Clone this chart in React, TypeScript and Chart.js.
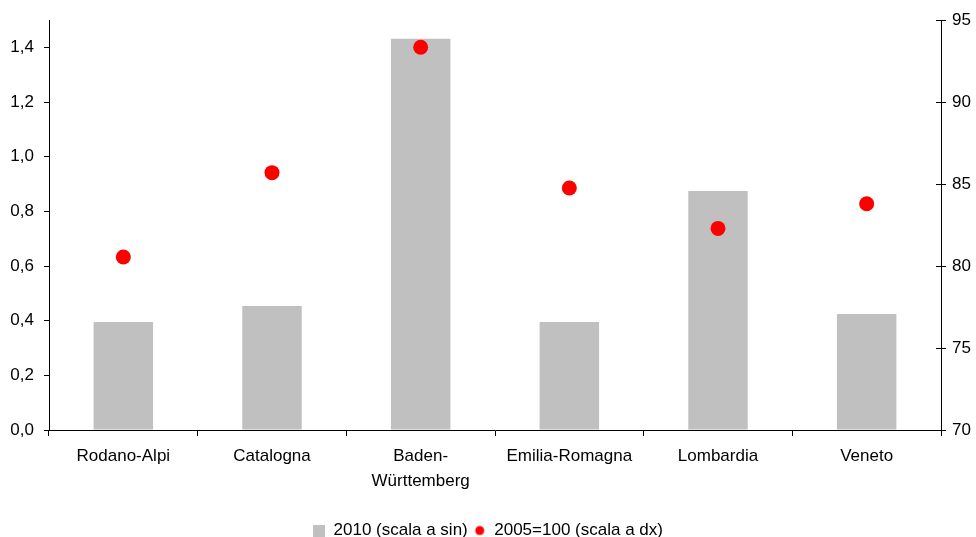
import React, { useEffect, useRef } from 'react';
import { Chart, registerables } from 'chart.js';

Chart.register(...registerables);

const categories: (string | string[])[] = [
  'Rodano-Alpi',
  'Catalogna',
  ['Baden-', 'Württemberg'],
  'Emilia-Romagna',
  'Lombardia',
  'Veneto',
];
const values2010 = [0.395, 0.454, 1.432, 0.395, 0.875, 0.425];
const index2005 = [80.55, 85.7, 93.35, 84.76, 82.3, 83.8];
const leftTicks = [0, 0.2, 0.4, 0.6, 0.8, 1.0, 1.2, 1.4];
const rightTicks = [70, 75, 80, 85, 90, 95];
const seriesNames = ['2010 (scala a sin)', '2005=100 (scala a dx)'];

const FONT = { family: '"Liberation Sans", Arial, sans-serif', size: 17 };

function makeSwatch(kind: 'rect' | 'circle', color: string): HTMLCanvasElement {
  const c = document.createElement('canvas');
  c.width = 12;
  c.height = 12;
  const ctx = c.getContext('2d')!;
  ctx.fillStyle = color;
  if (kind === 'rect') {
    ctx.fillRect(0, 0, 12, 12);
  } else {
    ctx.beginPath();
    ctx.arc(6, 6, 4.5, 0, Math.PI * 2);
    ctx.fill();
  }
  return c;
}

const innerTicks = {
  id: 'innerTicks',
  afterDraw(chart: any) {
    const y1 = chart.scales.y1;
    const ctx = chart.ctx;
    const right = chart.chartArea.right;
    ctx.save();
    ctx.strokeStyle = '#000';
    ctx.lineWidth = 1;
    y1.ticks.forEach((t: any) => {
      const y = Math.round(y1.getPixelForValue(t.value)) + 0.5;
      ctx.beginPath();
      ctx.moveTo(right - 5, y);
      ctx.lineTo(right, y);
      ctx.stroke();
    });
    ctx.restore();
  },
};

export default function App() {
  const ref = useRef<HTMLCanvasElement>(null);
  useEffect(() => {
    document.body.style.margin = '0';
    const rectImg = makeSwatch('rect', '#C0C0C0');
    const circImg = makeSwatch('circle', '#FF0000');
    const chart = new Chart(ref.current!, {
      type: 'bar',
      data: {
        labels: categories as any,
        datasets: [
          {
            type: 'bar',
            label: seriesNames[0],
            data: values2010,
            backgroundColor: '#C0C0C0',
            borderWidth: 0,
            barPercentage: 0.4,
            categoryPercentage: 1,
            yAxisID: 'y',
            order: 1,
          },
          {
            type: 'line',
            label: seriesNames[1],
            data: index2005,
            showLine: false,
            pointRadius: 7.5,
            pointBackgroundColor: '#FF0000',
            pointBorderWidth: 0,
            backgroundColor: '#FF0000',
            borderColor: '#FF0000',
            yAxisID: 'y1',
            order: 0,
          } as any,
        ],
      },
      options: {
        animation: false,
        responsive: false,
        layout: { padding: { top: 20, left: 0, right: 0, bottom: -12 } },
        plugins: {
          tooltip: { enabled: false },
          legend: {
            position: 'bottom',
            labels: {
              usePointStyle: true,
              pointStyleWidth: 12,
              boxHeight: 12,
              padding: 6,
              color: '#000',
              font: FONT,
              generateLabels: () => [
                { text: seriesNames[0], pointStyle: rectImg, fillStyle: '#C0C0C0', strokeStyle: '#C0C0C0', lineWidth: 0, datasetIndex: 0, fontColor: '#000' } as any,
                { text: seriesNames[1], pointStyle: circImg, fillStyle: '#FF0000', strokeStyle: '#FF0000', lineWidth: 0, datasetIndex: 1, fontColor: '#000' } as any,
              ],
            },
          },
        },
        scales: {
          x: {
            offset: true,
            grid: { offset: true, drawOnChartArea: false, drawTicks: true, tickLength: 6, color: '#000', lineWidth: 1 },
            border: { display: true, color: '#000', width: 1 },
            ticks: { color: '#000', font: { ...FONT, lineHeight: 1.45 }, padding: 8, maxRotation: 0, autoSkip: false },
            afterFit: (s: any) => { s.height = 86; },
          },
          y: {
            position: 'left',
            min: 0,
            max: 1.5,
            afterBuildTicks: (s: any) => { s.ticks = leftTicks.map((v) => ({ value: v })); },
            grid: { drawOnChartArea: false, drawTicks: true, tickLength: 5, color: '#000', lineWidth: 1 },
            border: { display: true, color: '#000', width: 1 },
            ticks: {
              color: '#000',
              font: FONT,
              padding: 10,
              callback: (v: any) => Number(v).toFixed(1).replace('.', ','),
            },
            afterFit: (s: any) => { s.width = 49; },
          },
          y1: {
            position: 'right',
            min: 70,
            max: 95,
            afterBuildTicks: (s: any) => { s.ticks = rightTicks.map((v) => ({ value: v })); },
            grid: { drawOnChartArea: false, drawTicks: true, tickLength: 5, color: '#000', lineWidth: 1 },
            border: { display: true, color: '#000', width: 1 },
            ticks: { color: '#000', font: FONT, padding: 6, callback: (v: any) => String(v) },
            afterFit: (s: any) => { s.width = 35; },
          },
        },
      },
      plugins: [innerTicks],
    });
    return () => chart.destroy();
  }, []);
  return <canvas ref={ref} width={976} height={537} style={{ display: 'block' }} />;
}
